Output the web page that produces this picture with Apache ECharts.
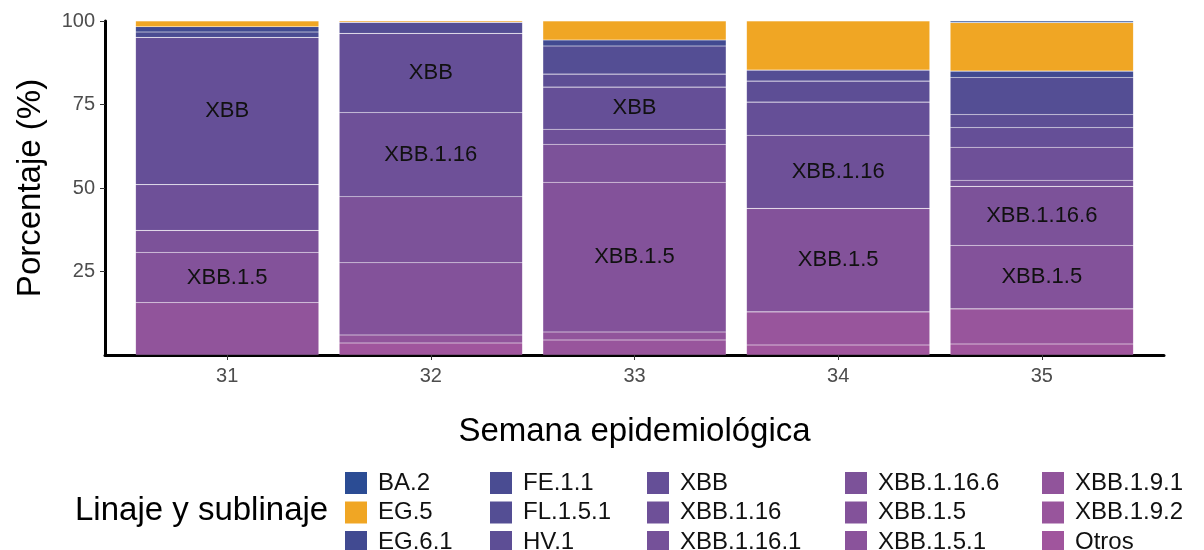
<!DOCTYPE html>
<html>
<head>
<meta charset="utf-8">
<script src="https://cdn.jsdelivr.net/npm/echarts@6/dist/echarts.min.js"></script>
<style>
html,body{margin:0;padding:0;background:#fff;}
#chart{width:1204px;height:550px;}
</style>
</head>
<body>
<div id="chart"></div>
<script>
// ---- data ----
const weeks = ['31', '32', '33', '34', '35'];
const lineages = ['BA.2','EG.5','EG.6.1','FE.1.1','FL.1.5.1','HV.1','XBB','XBB.1.16','XBB.1.16.1','XBB.1.16.6','XBB.1.5','XBB.1.5.1','XBB.1.9.1','XBB.1.9.2','Otros'];
const yTicks = [25, 50, 75, 100];

const BA_2       = [0,    0,    0,    0,    0.5];
const EG_5       = [1.7,  0.4,  5.7,  14.7, 14.5];
const EG_6_1     = [1.6,  0,    1.8,  0,    1.9];
const FE_1_1     = [1.6,  0,    0,    0,    0];
const FL_1_5_1   = [0,    3.3,  8.4,  3.3,  11.1];
const HV_1       = [0,    0,    3.9,  6.3,  3.9];
const XBB        = [44.1, 23.7, 12.6, 9.9,  5.9];
const XBB_1_16   = [13.7, 25.2, 4.5,  21.9, 9.9];
const XBB_1_16_1 = [0,    0,    0,    0,    1.8];
const XBB_1_16_6 = [6.6,  19.8, 11.4, 0,    17.7];
const XBB_1_5    = [15.0, 21.6, 44.8, 31.0, 19.0];
const XBB_1_5_1  = [0,    0,    0,    0,    0];
const XBB_1_9_1  = [15.7, 2.4,  2.4,  0,    0];
const XBB_1_9_2  = [0,    0,    4.5,  9.9,  10.5];
const Otros      = [0,    3.6,  0,    3.0,  3.3];

const seriesValues = [BA_2, EG_5, EG_6_1, FE_1_1, FL_1_5_1, HV_1, XBB, XBB_1_16, XBB_1_16_1, XBB_1_16_6, XBB_1_5, XBB_1_5_1, XBB_1_9_1, XBB_1_9_2, Otros];

// labelled segments: [week, lineage]
const labelled = [['31','XBB'],['31','XBB.1.5'],['32','XBB'],['32','XBB.1.16'],['33','XBB'],['33','XBB.1.5'],['34','XBB.1.16'],['34','XBB.1.5'],['35','XBB.1.16.6'],['35','XBB.1.5']];

// ---- styles ----
const colors = ['#2b4c94','#f0a624','#414a91','#4a4c92','#544e94','#5d4e95','#654f97','#6e5098','#755199','#7c5299','#83529a','#8a539b','#91549b','#98559c','#a0559d'];
const FONT = '"Liberation Sans", Arial, sans-serif';

// layout: ggplot-style 0.6-category expansion on each side of the band axis
const W = 1204, AX_LEFT = 105, AX_RIGHT = 40;
const band = (W - AX_LEFT - AX_RIGHT) / (weeks.length + 0.2);
const pad = 0.1 * band;

const series = [];
for (let k = lineages.length - 1; k >= 0; k--) {
  const name = lineages[k];
  const vals = seriesValues[k];
  series.push({
    name: name,
    type: 'bar',
    stack: 'total',
    barWidth: '90%',
    xAxisIndex: 0, yAxisIndex: 0,
    itemStyle: { color: colors[k], borderColor: 'rgba(255,255,255,0.13)', borderWidth: 0.6 },
    emphasis: { disabled: true },
    label: {
      show: false, position: 'inside', color: '#111', fontSize: 22, fontFamily: FONT,
      formatter: name
    },
    data: vals.map((v, i) => {
      const item = { value: v };
      if (v === 0) item.itemStyle = { borderWidth: 0 };
      if (labelled.some(p => p[0] === weeks[i] && p[1] === name)) item.label = { show: true };
      return item;
    })
  });
}

const legendCols = [345, 490, 647, 845, 1042];
const legends = legendCols.map((x, c) => ({
  orient: 'vertical',
  left: x,
  top: 471,
  height: 120,
  padding: 0,
  itemWidth: 22,
  itemHeight: 22,
  itemGap: 5.5,
  icon: 'rect',
  selectedMode: false,
  itemStyle: { borderWidth: 0 },
  textStyle: { fontSize: 24, color: '#111', fontFamily: FONT, lineHeight: 22, padding: [0, 0, 0, 6] },
  data: lineages.slice(c * 3, c * 3 + 3)
}));

const chart = echarts.init(document.getElementById('chart'), null, { renderer: 'canvas' });
chart.setOption({
  animation: false,
  backgroundColor: '#fff',
  textStyle: { fontFamily: FONT },
  title: {
    text: 'Linaje y sublinaje',
    left: 75, top: 494, padding: 0,
    textStyle: { fontSize: 33, fontWeight: 'normal', color: '#000', fontFamily: FONT }
  },
  legend: legends,
  grid: [
    { left: AX_LEFT + pad, right: AX_RIGHT + pad, top: 21, bottom: 195, outerBoundsMode: 'none', containLabel: false },
    { left: AX_LEFT, right: AX_RIGHT, top: 21, bottom: 195, outerBoundsMode: 'none', containLabel: false }
  ],
  xAxis: [
    {
      type: 'category',
      gridIndex: 0,
      data: weeks,
      boundaryGap: true,
      name: 'Semana epidemiológica',
      nameLocation: 'middle',
      nameGap: 60,
      nameTextStyle: { fontSize: 33, color: '#000', fontFamily: FONT },
      axisLine: { show: false },
      axisTick: { show: true, alignWithLabel: true, length: 5, lineStyle: { color: '#333', width: 1 } },
      axisLabel: { fontSize: 20, color: '#4d4d4d', margin: 11, fontFamily: FONT },
      splitLine: { show: false }
    },
    {
      type: 'value',
      gridIndex: 1,
      min: 0, max: 1,
      axisLine: { show: true, lineStyle: { color: '#000', width: 3 } },
      axisTick: { show: false },
      axisLabel: { show: false },
      splitLine: { show: false }
    }
  ],
  yAxis: [
    {
      type: 'value',
      gridIndex: 0,
      min: 0, max: 100, interval: 25,
      offset: pad,
      name: 'Porcentaje (%)',
      nameLocation: 'middle',
      nameGap: 58,
      nameTextStyle: { fontSize: 33, color: '#000', fontFamily: FONT },
      axisLine: { show: true, lineStyle: { color: '#000', width: 3 } },
      axisTick: { show: true, length: 5, lineStyle: { color: '#333', width: 1 }, customValues: yTicks },
      axisLabel: { fontSize: 20, color: '#4d4d4d', margin: 10, fontFamily: FONT, customValues: yTicks },
      splitLine: { show: false }
    },
    {
      type: 'value',
      gridIndex: 1,
      min: 0, max: 1,
      show: false
    }
  ],
  series: series
});
</script>
</body>
</html>
